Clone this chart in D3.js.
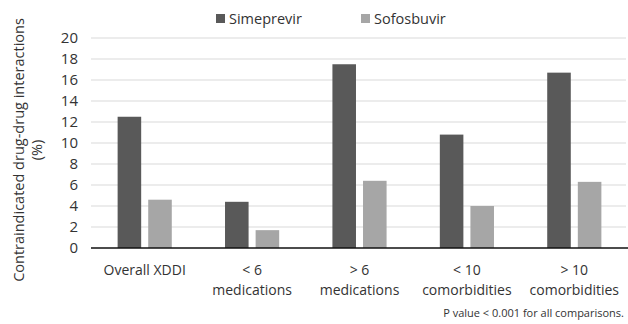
<!DOCTYPE html>
<html><head><meta charset="utf-8">
<script src="https://cdn.jsdelivr.net/npm/d3@7"></script>
<style>body{margin:0;background:#fff}svg{display:block}text{font-family:"Open Sans",sans-serif;fill:#333}</style>
</head><body><svg id="c" width="628" height="324"></svg>
<script>
const categories = [["Overall XDDI"], ["< 6", "medications"], ["> 6", "medications"], ["< 10", "comorbidities"], ["> 10", "comorbidities"]];
const seriesNames = ["Simeprevir", "Sofosbuvir"];
const simeprevir = [12.5, 4.4, 17.5, 10.8, 16.7];
const sofosbuvir = [4.6, 1.7, 6.4, 4.0, 6.3];
const yTicks = [0, 2, 4, 6, 8, 10, 12, 14, 16, 18, 20];
const colors = ["#595959", "#a6a6a6"];

const svg = d3.select("#c");
const m = {l: 91, r: 628, t: 38, b: 248};
const x0 = d3.scaleBand().domain(d3.range(categories.length)).range([m.l, m.r]).paddingInner(0).paddingOuter(0);
const x1 = d3.scaleBand().domain([0, 1]).range([0, x0.bandwidth()]).paddingInner(0.23).paddingOuter(0.87);
const y = d3.scaleLinear().domain([0, 20]).range([m.b, m.t]);

// gridlines
svg.append("g").selectAll("line").data(yTicks.filter(d => d > 0)).join("line")
  .attr("x1", m.l).attr("x2", m.r - 2).attr("y1", d => y(d)).attr("y2", d => y(d))
  .attr("stroke", "#d9d9d9").attr("stroke-width", 1);

// y axis labels
const yAxis = d3.axisLeft(y).tickValues(yTicks).tickSize(0).tickPadding(13);
const ga = svg.append("g").attr("transform", `translate(${m.l},0)`).call(yAxis);
ga.select(".domain").remove();
ga.selectAll("text").style("font-size", "15px").attr("fill", "#404040").style("font-family", '"Open Sans",sans-serif');

const data = [simeprevir, sofosbuvir];
data.forEach((vals, si) => {
  svg.append("g").selectAll("rect").data(vals).join("rect")
    .attr("x", (d, i) => x0(i) + x1(si))
    .attr("width", x1.bandwidth())
    .attr("y", d => y(d))
    .attr("height", d => y(0) - y(d))
    .attr("fill", colors[si]);
});

// baseline
svg.append("line").attr("x1", m.l).attr("x2", m.r).attr("y1", y(0)).attr("y2", y(0)).attr("stroke", "#111").attr("stroke-width", 1.5);

// category labels
const cg = svg.append("g");
categories.forEach((lines, i) => {
  const t = cg.append("text").attr("x", x0(i) + x0.bandwidth() / 2).attr("y", 275)
    .attr("text-anchor", "middle").style("font-size", "14px").attr("fill", "#333");
  lines.forEach((l, k) => t.append("tspan").attr("x", x0(i) + x0.bandwidth() / 2).attr("dy", k === 0 ? 0 : 20).text(l));
});

// y title
const yt = svg.append("text").attr("transform", "translate(24,150) rotate(-90)").attr("text-anchor", "middle")
  .style("font-size", "14.5px").attr("fill", "#333");
yt.append("tspan").attr("x", 0).attr("dy", 0).text("Contraindicated drug-drug interactions");
yt.append("tspan").attr("x", 0).attr("dy", 18).text("(%)");

// legend
const legX = [216, 361];
seriesNames.forEach((n, i) => {
  svg.append("rect").attr("x", legX[i]).attr("y", 14).attr("width", 9).attr("height", 9).attr("fill", colors[i]);
  svg.append("text").attr("x", legX[i] + 13).attr("y", 24).style("font-size", "14.5px").attr("fill", "#333").text(n);
});

// footnote
svg.append("text").attr("x", 624).attr("y", 317).attr("text-anchor", "end").style("font-size", "11px").attr("fill", "#222")
  .text("P value < 0.001 for all comparisons.");
</script></body></html>
